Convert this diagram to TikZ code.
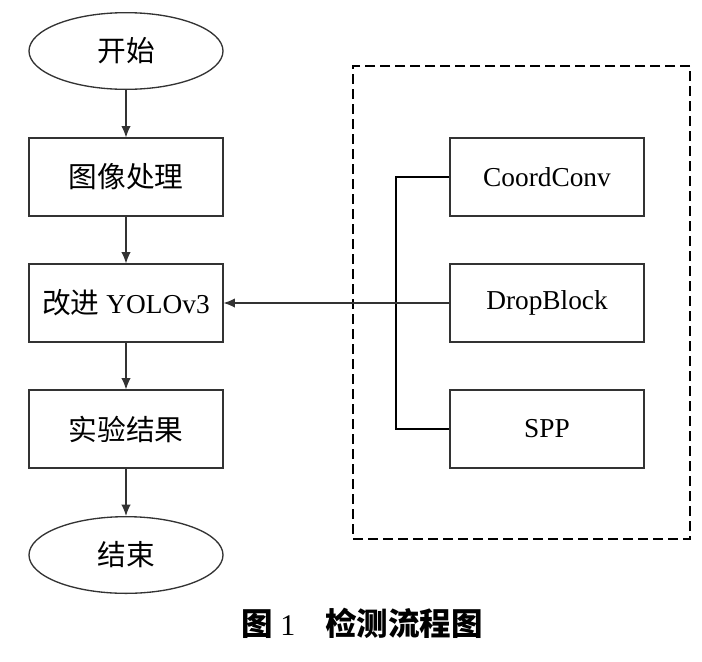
\documentclass[tikz,border=0pt]{standalone}
\usepackage{fontspec}
\setmainfont{Liberation Serif}
\newfontfamily\cjk{Noto Sans CJK SC}[Scale=1.05]
\usetikzlibrary{shapes.geometric,arrows.meta}

\begin{document}
\begin{tikzpicture}[x=0.75pt,y=-0.75pt,
    font=\fontsize{20.5}{24}\selectfont,
    terminal/.style ={ellipse, draw=black!80, line width=1pt, minimum width=145.5pt, minimum height=57.5pt, inner sep=0pt},
    process/.style ={rectangle, draw=black!80, line width=1.3pt, minimum width=145pt, minimum height=58pt, inner sep=0pt},
    module/.style ={rectangle, draw=black!80, line width=1.3pt, minimum width=145.5pt, minimum height=58pt, inner sep=0pt},
    flow/.style ={draw=black!80, line width=0.9pt, -{Latex[length=8.5pt,width=7pt]}},
    bus/.style ={draw=black, line width=1.3pt}]
   \useasboundingbox (0,0) rectangle (702,661);

   \node[terminal] (start)  at (126,51)  {\cjk 开始};
   \node[process] (image)   at (126,177) {\cjk 图像处理};
   \node[process] (yolo)    at (126,303) {{\cjk 改进} YOLOv3};
   \node[process] (result)  at (126,429) {\cjk 实验结果};
   \node[terminal] (finish) at (126,555) {\cjk 结束};

   \node[draw=black, line width=1.3pt, dash pattern=on 7.5pt off 3.75pt,
         minimum width=252.75pt, minimum height=354.75pt, inner sep=0pt] (group) at (521.5,302.5) {};
   \node[module] (coord) at (547,177) {CoordConv};
   \node[module] (drop)  at (547,303) {DropBlock};
   \node[module] (spp)   at (547,429) {SPP};
   \coordinate (bustop) at (396,177);
   \coordinate (busbot) at (396,429);

   \node[font=\fontsize{22.5}{26}\selectfont] (caption) at (362,623)
        {{\cjk\bfseries 图} 1\hspace{1em}{\cjk\bfseries 检测流程图}};

   \draw[flow] (start) to (image);
   \draw[flow] (image) to (yolo);
   \draw[flow] (yolo) to (result);
   \draw[flow] (result) to (finish);
   \draw[bus] (coord.west) -- (bustop) -- (busbot) -- (spp.west);
   \draw[flow] (drop.west) to (yolo.east);
 \end{tikzpicture}
\end{document}
